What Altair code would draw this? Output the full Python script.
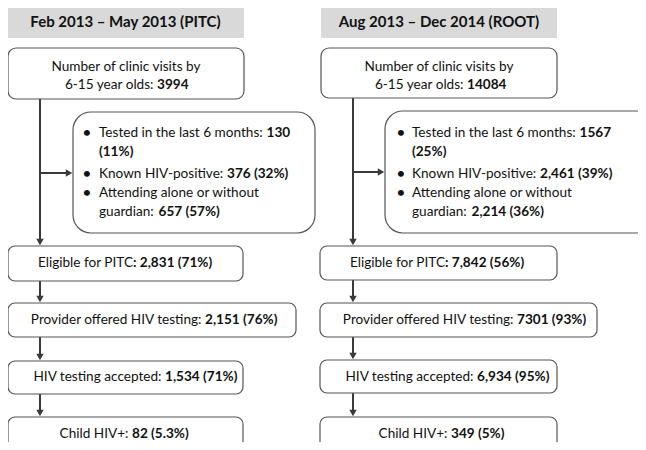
import altair as alt
import pandas as pd

# ---------------- data ----------------
periods = ["Feb 2013 \u2013 May 2013 (PITC)", "Aug 2013 \u2013 Dec 2014 (ROOT)"]
clinic_visits = ["3994", "14084"]
tested_6m = ["130", "1567"]
tested_6m_pct = ["(11%)", "(25%)"]
known_pos = ["376 (32%)", "2,461 (39%)"]
alone = ["657 (57%)", "2,214 (36%)"]
eligible = ["2,831 (71%)", "7,842 (56%)"]
offered = ["2,151 (76%)", "7301 (93%)"]
accepted = ["1,534 (71%)", "6,934 (95%)"]
child_pos = ["82 (5.3%)", "349 (5%)"]

# ---------------- layout (pixel space of the figure) ----------------
FONT = "Lato"
FS = 13.6
W, H = 630, 434
X0, Y0 = 8, 8
xs = alt.Scale(domain=[X0, X0 + W], nice=False, zero=False)
ys = alt.Scale(domain=[Y0, Y0 + H], nice=False, zero=False, reverse=True)

# widths (px) of the regular parts of the bullet lines in the chosen font
W_TESTED, W_KNOWN, W_GUARD = 167.5, 128, 59.5

cols = [
    dict(hdr=(7, 244, 5, 38), box1=(8, 244, 48, 99), bul=(73, 315, 112, 233),
         steps=[(8, 243, 246, 281), (8, 296, 303, 337), (8, 243, 361, 394), (8, 243, 417, 470)],
         vx=40, hy=173, bx=87, tx=99,
         split_visits=157, split_steps=[133, 205, 165, 132]),
    dict(hdr=(321, 557, 5, 38), box1=(321, 557, 48, 98), bul=(385, 660, 111, 233),
         steps=[(320, 557, 246, 280), (320, 597, 303, 337), (320, 557, 360, 393), (320, 557, 417, 470)],
         vx=353, hy=172, bx=401, tx=412,
         split_visits=467, split_steps=[445, 517, 477, 451]),
]
bullet_y = [133, 152, 174, 193, 212]
step_y = [263, 320, 377, 434]
GAP = 3.5

hdr_rows, box1_rows, bul_rows, step_rows = [], [], [], []
rules, heads_down, heads_right = [], [], []
t_center, t_right, t_left, b_left, b_hdr, bullets = [], [], [], [], [], []

for c, L in enumerate(cols):
    x1, x2, y1, y2 = L["hdr"]
    hdr_rows.append(dict(x=x1, x2=x2, y=y1, y2=y2))
    b_hdr.append(dict(x=(x1 + x2) / 2, y=22, t=periods[c]))

    x1, x2, y1, y2 = L["box1"]
    box1_rows.append(dict(x=x1, x2=x2, y=y1, y2=y2))
    t_center.append(dict(x=(x1 + x2) / 2, y=67, t="Number of clinic visits by"))
    t_right.append(dict(x=L["split_visits"] - GAP, y=85, t="6-15 year olds:"))
    b_left.append(dict(x=L["split_visits"], y=85, t=clinic_visits[c]))
    box1_bottom = y2

    x1, x2, y1, y2 = L["bul"]
    bul_rows.append(dict(x=x1, x2=x2, y=y1, y2=y2))
    bul_left = x1
    tx = L["tx"]
    for yy in (bullet_y[0], bullet_y[2], bullet_y[3]):
        bullets.append(dict(x=L["bx"], y=yy, t="\u2022"))
    t_left.append(dict(x=tx, y=bullet_y[0], t="Tested in the last 6 months:"))
    b_left.append(dict(x=tx + W_TESTED, y=bullet_y[0], t=tested_6m[c]))
    b_left.append(dict(x=tx, y=bullet_y[1], t=tested_6m_pct[c]))
    t_left.append(dict(x=tx, y=bullet_y[2], t="Known HIV-positive:"))
    b_left.append(dict(x=tx + W_KNOWN, y=bullet_y[2], t=known_pos[c]))
    t_left.append(dict(x=tx, y=bullet_y[3], t="Attending alone or without"))
    t_left.append(dict(x=tx, y=bullet_y[4], t="guardian:"))
    b_left.append(dict(x=tx + W_GUARD, y=bullet_y[4], t=alone[c]))

    labels = [("Eligible for PITC", ": " + eligible[c], 0),
              ("Provider offered HIV testing:", offered[c], GAP),
              ("HIV testing accepted:", accepted[c], GAP),
              ("Child HIV+:", child_pos[c], GAP)]
    for i, (sx1, sx2, sy1, sy2) in enumerate(L["steps"]):
        step_rows.append(dict(x=sx1, x2=sx2, y=sy1, y2=sy2))
        reg, bold, gap = labels[i]
        sp = L["split_steps"][i]
        t_right.append(dict(x=sp - gap, y=step_y[i], t=reg))
        b_left.append(dict(x=sp, y=step_y[i], t=bold))

    vx = L["vx"]
    first_top = L["steps"][0][2]
    rules.append(dict(x=vx, x2=vx, y=box1_bottom, y2=first_top - 4))
    heads_down.append(dict(x=vx, y=first_top - 4))
    rules.append(dict(x=vx, x2=bul_left - 5, y=L["hy"], y2=L["hy"]))
    heads_right.append(dict(x=bul_left - 4, y=L["hy"]))
    for i in range(3):
        top = L["steps"][i][3]
        bot = L["steps"][i + 1][2]
        rules.append(dict(x=vx, x2=vx, y=top, y2=bot - 4))
        heads_down.append(dict(x=vx, y=bot - 4))

X = lambda f="x": alt.X(f"{f}:Q", scale=xs, axis=None)
Y = lambda f="y": alt.Y(f"{f}:Q", scale=ys, axis=None)


def rect_layer(rows, radius, fill, stroke=None):
    kw = dict(cornerRadius=radius, fill=fill, clip=True)
    if stroke:
        kw.update(stroke=stroke, strokeWidth=1.2)
    return alt.Chart(pd.DataFrame(rows)).mark_rect(**kw).encode(
        x=X(), x2="x2:Q", y=Y(), y2="y2:Q")


def text_layer(rows, align, weight, size=FS):
    return alt.Chart(pd.DataFrame(rows)).mark_text(
        align=align, baseline="middle", font=FONT, fontSize=size,
        fontWeight=weight, color="#111111").encode(x=X(), y=Y(), text="t:N")


ARROW = "#3a3a3a"
layers = [
    rect_layer(hdr_rows, 0, "#d9d9d9"),
    alt.Chart(pd.DataFrame(rules)).mark_rule(color=ARROW, strokeWidth=2).encode(
        x=X(), x2="x2:Q", y=Y(), y2="y2:Q"),
    alt.Chart(pd.DataFrame(heads_down)).mark_point(
        shape="triangle-down", filled=True, size=55, color=ARROW, opacity=1).encode(x=X(), y=Y()),
    alt.Chart(pd.DataFrame(heads_right)).mark_point(
        shape="triangle-right", filled=True, size=55, color=ARROW, opacity=1).encode(x=X(), y=Y()),
    rect_layer(box1_rows, 8, "white", "#555555"),
    rect_layer(bul_rows, 18, "white", "#555555"),
    rect_layer(step_rows, 7, "white", "#555555"),
    text_layer(b_hdr, "center", "bold", 15),
    text_layer(t_center, "center", "normal"),
    text_layer(t_right, "right", "normal"),
    text_layer(t_left, "left", "normal"),
    text_layer(b_left, "left", "bold"),
    text_layer(bullets, "center", "normal", 16),
]

chart = alt.layer(*layers).properties(
    width=W, height=H, padding=0, autosize="none"
).configure_view(stroke=None)

chart.save("out.html", embed_options={"renderer": "svg", "actions": False})
